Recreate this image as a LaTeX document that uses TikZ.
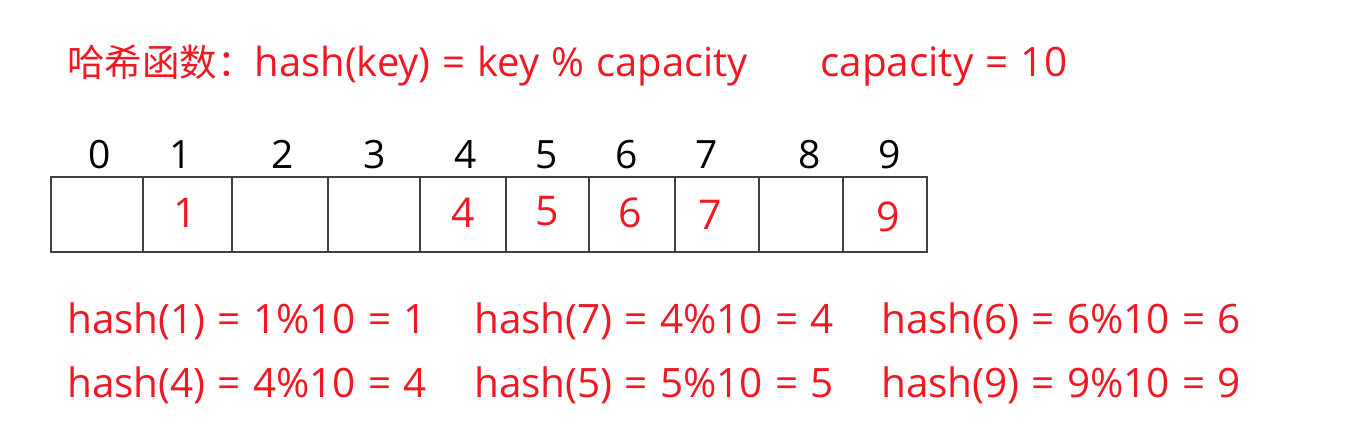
\documentclass[tikz,border=0pt]{standalone}
\usepackage{fontspec}
\setmainfont{Open Sans}[WordSpace=1.15]
\newfontfamily\cjk{Noto Sans CJK SC}
\definecolor{hred}{RGB}{240,24,34}
\definecolor{cellline}{RGB}{64,64,64}
\begin{document}
\begin{tikzpicture}[x=1pt,y=-1pt,
  txt/.style={inner sep=0pt,anchor=base west,font=\fontsize{40.5}{46}\selectfont},
  redtxt/.style={txt,text=hred},
  idx/.style={inner sep=0pt,anchor=base,font=\fontsize{39}{46}\selectfont},
  val/.style={inner sep=0pt,anchor=center,text=hred,font=\fontsize{41}{48}\selectfont},
  cell/.style={draw=cellline,line width=1.3pt}]
\useasboundingbox (0,0) rectangle (1345,429);
\fill[white] (0,0) rectangle (1345,429);
% title
\node[redtxt,font=\fontsize{40}{46}\selectfont] (title) at (67,76) {{\cjk\fontsize{37.5}{46}\selectfont 哈希函数：}hash(key) = key \% capacity};
\node[redtxt] (cap) at (820,76) {capacity = 10};
% cells
\foreach \i/\a/\b in {0/51/143,1/143/232,2/232/328,3/328/420,4/420/506,5/506/589,6/589/675,7/675/759,8/759/843,9/843/927}{
  \draw[cell] (\a,177) rectangle (\b,252);
  \coordinate (c\i) at ({(\a+\b)/2},214.5);
}
% index labels
\foreach \i/\x in {0/100,1/181,2/283,3/375,4/466,5/547,6/627,7/707,8/810,9/890}{
  \node[idx] (i\i) at (\x,168) {\i};
}
% values
\node[val] (v1) at (185,213) {1};
\node[val] (v4) at (463,213) {4};
\node[val] (v5) at (547,211) {5};
\node[val] (v6) at (630,213) {6};
\node[val] (v7) at (710,215) {7};
\node[val] (v9) at (888,217) {9};
% hash computations
\node[redtxt] (h1) at (67,333) {hash(1) = 1\%10 = 1};
\node[redtxt] (h7) at (474,333) {hash(7) = 4\%10 = 4};
\node[redtxt] (h6) at (881,333) {hash(6) = 6\%10 = 6};
\node[redtxt] (h4) at (67,397) {hash(4) = 4\%10 = 4};
\node[redtxt] (h5) at (474,397) {hash(5) = 5\%10 = 5};
\node[redtxt] (h9) at (881,397) {hash(9) = 9\%10 = 9};
\end{tikzpicture}
\end{document}
